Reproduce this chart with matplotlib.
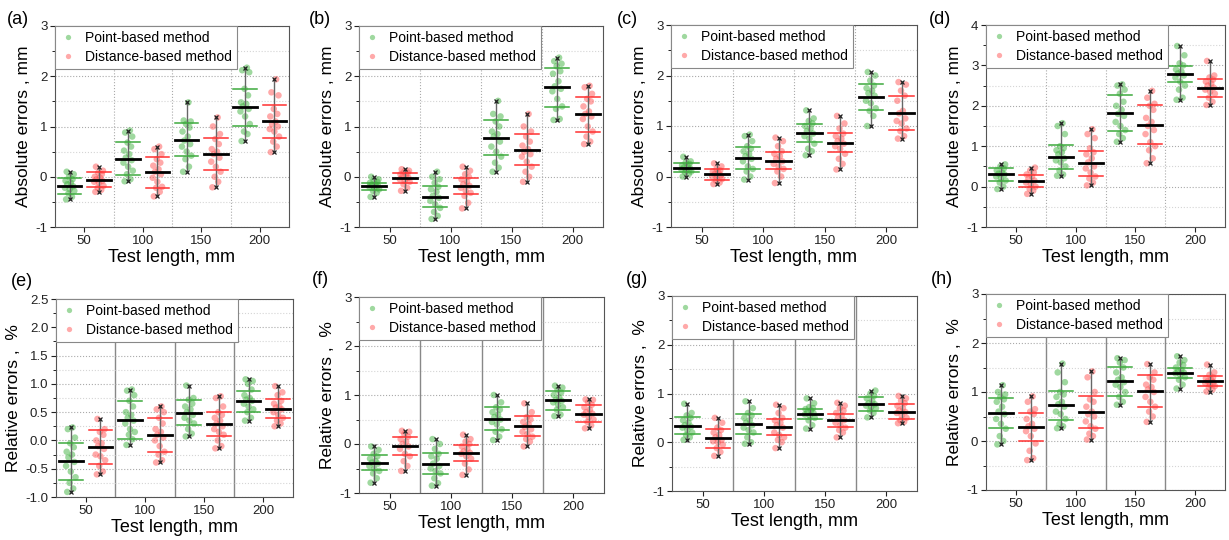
import matplotlib
matplotlib.use('Agg')
import matplotlib.pyplot as plt
from matplotlib.ticker import MultipleLocator, FormatStrFormatter
from matplotlib.lines import Line2D

plt.rcParams['font.family'] = ['Liberation Sans', 'DejaVu Sans']
plt.rcParams['axes.unicode_minus'] = False

lengths = [50, 100, 150, 200]
series_labels = ['Point-based method', 'Distance-based method']
panel_letters = ['(a)', '(b)', '(c)', '(d)', '(e)', '(f)', '(g)', '(h)']
ylabel_abs = 'Absolute errors , mm'
ylabel_rel = 'Relative errors ,  %'
xlabel_txt = 'Test length, mm'

# ---------------- panel (a) ----------------
a_point = [[-0.45,-0.40,-0.33,-0.28,-0.25,-0.22,-0.19,-0.15,-0.12,-0.08,-0.05,0.0,0.05,0.10],
           [-0.09,-0.05,0.05,0.12,0.2,0.28,0.33,0.38,0.45,0.52,0.6,0.68,0.8,0.88,0.92],
           [0.1,0.2,0.35,0.42,0.5,0.6,0.65,0.72,0.8,0.9,0.98,1.05,1.1,1.12,1.48],
           [0.71,0.85,0.9,1.05,1.2,1.3,1.35,1.4,1.45,1.48,1.62,1.75,2.08,2.12,2.17]]
a_dist = [[-0.30,-0.26,-0.22,-0.18,-0.12,-0.10,-0.08,-0.05,-0.02,0.0,0.05,0.08,0.12,0.2],
          [-0.39,-0.3,-0.22,-0.2,-0.1,-0.02,0.05,0.1,0.15,0.22,0.28,0.35,0.45,0.55,0.6],
          [-0.21,-0.1,0.0,0.1,0.2,0.3,0.38,0.45,0.5,0.55,0.65,0.75,0.85,1.0,1.18],
          [0.49,0.6,0.7,0.8,0.9,0.95,1.0,1.05,1.1,1.2,1.25,1.35,1.62,1.68,1.94]]
a_point_mean = [-0.19, 0.36, 0.74, 1.38]
a_point_sd = [0.16, 0.33, 0.33, 0.37]
a_dist_mean = [-0.06, 0.09, 0.45, 1.10]
a_dist_sd = [0.15, 0.31, 0.32, 0.33]

# ---------------- panel (b) ----------------
b_point = [[-0.40,-0.32,-0.28,-0.25,-0.22,-0.2,-0.18,-0.16,-0.15,-0.12,-0.1,-0.08,-0.05,0.0],
           [-0.84,-0.78,-0.7,-0.62,-0.55,-0.48,-0.42,-0.38,-0.3,-0.25,-0.2,-0.12,-0.05,0.0,0.1],
           [0.1,0.18,0.28,0.4,0.5,0.6,0.7,0.8,0.85,0.9,1.0,1.1,1.2,1.25,1.51],
           [1.13,1.15,1.35,1.4,1.55,1.7,1.75,1.8,1.9,2.05,2.1,2.2,2.25,2.3,2.37]]
b_dist = [[-0.28,-0.22,-0.15,-0.1,-0.08,-0.05,-0.02,0.0,0.02,0.05,0.08,0.1,0.12,0.15],
          [-0.63,-0.52,-0.38,-0.32,-0.28,-0.22,-0.18,-0.15,-0.1,-0.05,0.0,0.05,0.12,0.2],
          [-0.1,0.0,0.1,0.2,0.3,0.4,0.45,0.5,0.55,0.62,0.7,0.8,0.9,1.0,1.25],
          [0.65,0.7,0.8,0.9,1.0,1.15,1.2,1.25,1.3,1.4,1.5,1.55,1.65,1.78,1.81]]
b_point_mean = [-0.19, -0.40, 0.78, 1.78]
b_point_sd = [0.07, 0.21, 0.35, 0.39]
b_dist_mean = [-0.03, -0.18, 0.54, 1.24]
b_dist_sd = [0.10, 0.16, 0.31, 0.35]

# ---------------- panel (c) ----------------
c_point = [[0.0,0.05,0.08,0.1,0.12,0.14,0.16,0.18,0.2,0.22,0.25,0.28,0.3,0.39],
           [-0.06,0.0,0.1,0.15,0.2,0.3,0.35,0.4,0.45,0.5,0.55,0.6,0.7,0.8,0.83],
           [0.42,0.5,0.55,0.65,0.75,0.8,0.85,0.9,0.95,1.0,1.05,1.1,1.15,1.31],
           [1.0,1.2,1.3,1.35,1.45,1.5,1.6,1.65,1.7,1.75,1.8,1.9,2.0,2.07]]
c_dist = [[-0.15,-0.12,-0.08,-0.05,-0.02,0.0,0.02,0.05,0.08,0.1,0.12,0.15,0.2,0.26],
          [-0.13,0.0,0.1,0.15,0.2,0.25,0.3,0.35,0.4,0.45,0.5,0.6,0.7,0.77],
          [0.14,0.25,0.35,0.45,0.55,0.6,0.65,0.7,0.75,0.8,0.85,0.95,1.05,1.2],
          [0.75,0.8,0.9,0.95,1.05,1.1,1.15,1.25,1.3,1.5,1.6,1.7,1.82,1.87]]
c_point_mean = [0.17, 0.37, 0.86, 1.58]
c_point_sd = [0.09, 0.22, 0.17, 0.26]
c_dist_mean = [0.04, 0.31, 0.67, 1.26]
c_dist_sd = [0.10, 0.17, 0.19, 0.33]

# ---------------- panel (d) ----------------
d_point = [[-0.06,0.0,0.1,0.15,0.2,0.25,0.3,0.32,0.35,0.4,0.45,0.5,0.55],
           [0.27,0.3,0.4,0.5,0.6,0.65,0.7,0.8,0.85,0.9,0.95,1.0,1.3,1.5,1.57],
           [1.11,1.2,1.3,1.4,1.5,1.6,1.75,1.8,1.9,2.0,2.1,2.3,2.4,2.5,2.53],
           [2.15,2.2,2.4,2.5,2.6,2.7,2.75,2.8,2.85,2.9,3.0,3.05,3.25,3.48]]
d_dist = [[-0.18,-0.1,-0.05,0.0,0.05,0.1,0.15,0.2,0.25,0.3,0.35,0.4,0.47],
          [0.03,0.1,0.2,0.25,0.35,0.45,0.5,0.6,0.7,0.8,0.85,0.95,1.2,1.3,1.42],
          [0.58,0.7,0.9,1.0,1.1,1.3,1.4,1.5,1.6,1.7,1.9,2.0,2.05,2.2,2.37],
          [2.02,2.1,2.2,2.3,2.35,2.4,2.45,2.5,2.55,2.6,2.65,2.7,2.75,3.11]]
d_point_mean = [0.30, 0.73, 1.82, 2.78]
d_point_sd = [0.15, 0.30, 0.45, 0.20]
d_dist_mean = [0.14, 0.58, 1.53, 2.44]
d_dist_sd = [0.14, 0.31, 0.48, 0.22]

# ---------------- panel (e) ----------------
e_point = [[-0.91,-0.85,-0.75,-0.65,-0.55,-0.45,-0.38,-0.3,-0.25,-0.2,-0.12,-0.05,0.05,0.2,0.23],
           [-0.08,0.02,0.1,0.15,0.2,0.3,0.35,0.4,0.45,0.5,0.6,0.7,0.8,0.88,0.9],
           [0.07,0.12,0.2,0.3,0.35,0.4,0.45,0.5,0.55,0.6,0.65,0.72,0.75,0.97],
           [0.35,0.4,0.5,0.55,0.6,0.65,0.7,0.72,0.75,0.8,0.9,1.0,1.05,1.08]]
e_dist = [[-0.6,-0.55,-0.45,-0.35,-0.28,-0.25,-0.15,-0.1,-0.05,0.0,0.1,0.15,0.2,0.38],
          [-0.39,-0.35,-0.25,-0.2,-0.1,0.0,0.05,0.1,0.15,0.2,0.3,0.4,0.5,0.55,0.6],
          [-0.14,-0.1,0.0,0.1,0.15,0.2,0.25,0.3,0.35,0.4,0.45,0.5,0.6,0.75,0.78],
          [0.25,0.3,0.35,0.4,0.45,0.5,0.55,0.58,0.6,0.65,0.7,0.8,0.85,0.96]]
e_point_mean = [-0.37, 0.36, 0.49, 0.69]
e_point_sd = [0.33, 0.33, 0.22, 0.19]
e_dist_mean = [-0.11, 0.10, 0.29, 0.56]
e_dist_sd = [0.30, 0.30, 0.22, 0.17]

# ---------------- panel (f) ----------------
f_point = [[-0.79,-0.7,-0.6,-0.55,-0.5,-0.45,-0.4,-0.38,-0.35,-0.3,-0.25,-0.2,-0.12,-0.05],
           [-0.85,-0.8,-0.7,-0.6,-0.55,-0.5,-0.45,-0.4,-0.3,-0.25,-0.2,-0.1,0.0,0.1],
           [0.08,0.15,0.25,0.3,0.4,0.45,0.5,0.55,0.6,0.65,0.7,0.75,0.85,1.0],
           [0.57,0.6,0.7,0.75,0.8,0.85,0.88,0.9,0.95,1.0,1.05,1.1,1.15,1.19]]
f_dist = [[-0.55,-0.45,-0.35,-0.25,-0.2,-0.1,-0.05,0.0,0.05,0.1,0.15,0.2,0.25,0.27],
          [-0.63,-0.52,-0.4,-0.3,-0.25,-0.2,-0.18,-0.15,-0.1,-0.05,0.0,0.05,0.1,0.19],
          [-0.05,0.05,0.1,0.15,0.2,0.25,0.3,0.35,0.4,0.45,0.5,0.55,0.65,0.83],
          [0.32,0.38,0.45,0.5,0.55,0.6,0.62,0.65,0.7,0.75,0.8,0.85,0.9,0.91]]
f_point_mean = [-0.38, -0.40, 0.52, 0.89]
f_point_sd = [0.16, 0.21, 0.24, 0.20]
f_dist_mean = [-0.04, -0.18, 0.37, 0.62]
f_dist_sd = [0.19, 0.16, 0.21, 0.18]

# ---------------- panel (g) ----------------
g_point = [[0.05,0.1,0.15,0.2,0.25,0.3,0.32,0.35,0.4,0.45,0.5,0.55,0.6,0.79],
           [-0.03,0.0,0.1,0.2,0.25,0.3,0.35,0.4,0.45,0.5,0.55,0.6,0.7,0.84],
           [0.28,0.35,0.45,0.5,0.55,0.57,0.6,0.62,0.65,0.68,0.7,0.72,0.8,0.9],
           [0.51,0.6,0.65,0.7,0.72,0.75,0.78,0.8,0.85,0.9,0.95,1.0,1.06]]
g_dist = [[-0.28,-0.2,-0.12,-0.05,0.0,0.02,0.05,0.1,0.15,0.2,0.25,0.3,0.4,0.5],
          [-0.12,0.0,0.05,0.1,0.15,0.2,0.3,0.35,0.4,0.45,0.5,0.6,0.7,0.77],
          [0.1,0.2,0.25,0.3,0.35,0.4,0.45,0.5,0.55,0.6,0.65,0.7,0.75,0.81],
          [0.39,0.42,0.45,0.5,0.55,0.6,0.62,0.65,0.7,0.75,0.8,0.85,0.9,0.95]]
g_point_mean = [0.34, 0.37, 0.58, 0.79]
g_point_sd = [0.18, 0.21, 0.11, 0.14]
g_dist_mean = [0.08, 0.31, 0.45, 0.63]
g_dist_sd = [0.19, 0.17, 0.13, 0.16]

# ---------------- panel (h) ----------------
h_point = [[-0.07,0.0,0.1,0.25,0.35,0.45,0.55,0.6,0.7,0.8,0.85,0.9,0.95,1.0,1.14],
           [0.26,0.3,0.35,0.45,0.55,0.6,0.7,0.75,0.8,0.9,0.95,1.0,1.2,1.4,1.58],
           [0.74,0.8,0.9,1.0,1.1,1.15,1.2,1.25,1.3,1.4,1.5,1.6,1.65,1.69],
           [1.07,1.15,1.25,1.3,1.35,1.38,1.4,1.42,1.45,1.5,1.55,1.6,1.65,1.73]]
h_dist = [[-0.39,-0.35,-0.2,-0.05,0.1,0.2,0.25,0.3,0.35,0.45,0.55,0.6,0.65,0.8,0.91],
          [0.03,0.1,0.15,0.25,0.3,0.4,0.5,0.55,0.6,0.7,0.8,0.85,1.0,1.3,1.42],
          [0.39,0.5,0.6,0.7,0.8,0.9,1.0,1.05,1.1,1.15,1.25,1.3,1.4,1.57],
          [1.01,1.05,1.1,1.12,1.15,1.18,1.2,1.22,1.25,1.28,1.3,1.35,1.4,1.56]]
h_point_mean = [0.57, 0.73, 1.22, 1.38]
h_point_sd = [0.30, 0.30, 0.30, 0.10]
h_dist_mean = [0.29, 0.59, 1.02, 1.22]
h_dist_sd = [0.28, 0.32, 0.33, 0.10]

# ---------------- layout / style ----------------
W, H = 1229, 540
rects_px = [(55, 289, 26, 227), (359, 603, 26, 227), (671, 917, 25, 227), (986, 1225, 25, 227),
            (56, 293, 299, 497), (359, 604, 297, 493), (672, 917, 296, 491), (986, 1225, 294, 490)]
letter_px = [(7, 19), (309, 19), (617, 19), (929, 19), (11, 281), (312, 279), (626, 279), (931, 279)]
ylims = [(-1, 3), (-1, 3), (-1, 3), (-1, 4), (-1, 2.5), (-1, 3), (-1, 3), (-1, 3)]
ysteps = [1, 1, 1, 1, 0.5, 1, 1, 1]

jitter = [-3.0, 2.0, -1.0, 4.0, 0.0, -4.0, 3.0, -2.0, 1.0, -3.5, 2.5, -0.5, 3.5, -2.5, 1.5]
green_pt = (0.25, 0.70, 0.25)
red_pt = (1.0, 0.33, 0.33)
green_ln = '#3daa3d'
red_ln = '#ff3030'

panels = [
    (a_point, a_dist, a_point_mean, a_point_sd, a_dist_mean, a_dist_sd),
    (b_point, b_dist, b_point_mean, b_point_sd, b_dist_mean, b_dist_sd),
    (c_point, c_dist, c_point_mean, c_point_sd, c_dist_mean, c_dist_sd),
    (d_point, d_dist, d_point_mean, d_point_sd, d_dist_mean, d_dist_sd),
    (e_point, e_dist, e_point_mean, e_point_sd, e_dist_mean, e_dist_sd),
    (f_point, f_dist, f_point_mean, f_point_sd, f_dist_mean, f_dist_sd),
    (g_point, g_dist, g_point_mean, g_point_sd, g_dist_mean, g_dist_sd),
    (h_point, h_dist, h_point_mean, h_point_sd, h_dist_mean, h_dist_sd),
]


def draw_group(ax, x0, pts, mean, sd, pcol, lcol):
    xs = [x0 + jitter[i % len(jitter)] for i in range(len(pts))]
    lo, hi = min(pts), max(pts)
    ax.plot([x0, x0], [lo, hi], color='#666666', lw=1.0, zorder=3)
    ax.scatter(xs, pts, s=22, color=pcol, alpha=0.5, edgecolors='none', zorder=2)
    ax.plot([x0, x0], [lo, hi], ls='none', marker='x', ms=3.5, mec='#222222', mew=0.9, zorder=5)
    ax.plot([x0 - 10, x0 + 10], [mean + sd] * 2, color=lcol, lw=1.1, zorder=4)
    ax.plot([x0 - 10, x0 + 10], [mean - sd] * 2, color=lcol, lw=1.1, zorder=4)
    ax.plot([x0 - 10, x0 + 10], [mean, mean], color='black', lw=2.0, zorder=6)


fig = plt.figure(figsize=(W / 100, H / 100), dpi=100)

for k, (pp, dp, pm, ps, dm, ds) in enumerate(panels):
    l, r, t, b = rects_px[k]
    ax = fig.add_axes([l / W, 1 - b / H, (r - l) / W, (b - t) / H])
    ax.set_xlim(25, 225)
    ax.set_ylim(*ylims[k])
    ax.yaxis.set_major_locator(MultipleLocator(ysteps[k]))
    ax.yaxis.set_minor_locator(MultipleLocator(ysteps[k] / 2))
    if ysteps[k] < 1:
        ax.yaxis.set_major_formatter(FormatStrFormatter('%.1f'))
    ax.set_xticks(lengths)
    ax.tick_params(axis='both', which='major', direction='out', length=3.5, width=0.8,
                   labelsize=9.5, colors='#222222', pad=2)
    ax.tick_params(axis='y', which='minor', direction='out', length=2, width=0.6)
    ax.grid(axis='y', which='major', ls=':', color='#aaaaaa', lw=0.8, zorder=0)
    ax.grid(axis='y', which='minor', ls=':', color='#d5d5d5', lw=0.8, zorder=0)
    for xv in (75, 125, 175):
        if k < 4:
            ax.axvline(xv, ls=':', color='#aaaaaa', lw=0.8, zorder=0)
        else:
            ax.axvline(xv, ls='-', color='#888888', lw=1.0, zorder=1)
    for sp in ax.spines.values():
        sp.set_color('#555555')
        sp.set_linewidth(0.8)

    for i, L in enumerate(lengths):
        draw_group(ax, L - 12.5, pp[i], pm[i], ps[i], green_pt, green_ln)
        draw_group(ax, L + 12.5, dp[i], dm[i], ds[i], red_pt, red_ln)

    ax.set_xlabel(xlabel_txt, fontsize=13, labelpad=2)
    ax.set_ylabel(ylabel_abs if k < 4 else ylabel_rel, fontsize=12.5, labelpad=3)

    handles = [Line2D([], [], ls='none', marker='o', ms=3.8, color=green_pt, alpha=0.5, mec='none'),
               Line2D([], [], ls='none', marker='o', ms=3.8, color=red_pt, alpha=0.5, mec='none')]
    leg = ax.legend(handles, series_labels, loc='upper left', fontsize=10, frameon=True,
                    fancybox=False, borderaxespad=0, borderpad=0.35, labelspacing=0.35,
                    handlelength=1.2, handletextpad=0.6, framealpha=1)
    leg.get_frame().set_edgecolor('#888888')
    leg.get_frame().set_linewidth(0.8)
    leg.set_zorder(10)

    lx, ly = letter_px[k]
    fig.text(lx / W, 1 - ly / H, panel_letters[k], fontsize=13, ha='left', va='center')

fig.savefig('out.png', dpi=100)
